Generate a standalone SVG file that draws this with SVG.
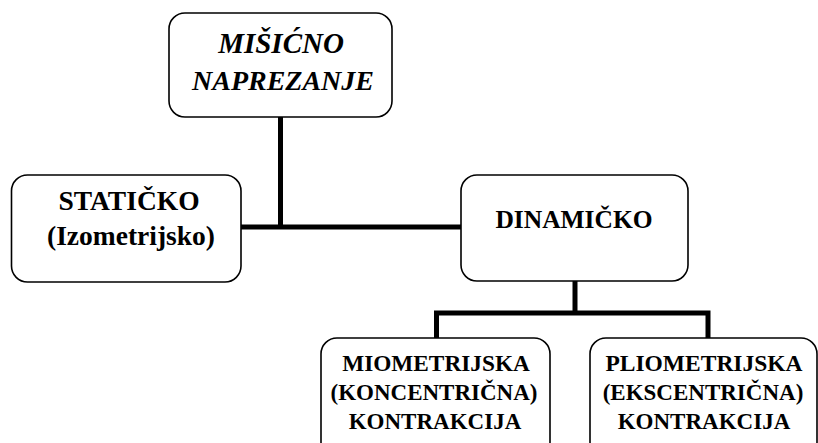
<svg xmlns="http://www.w3.org/2000/svg" width="818" height="443" viewBox="0 0 818 443">
  <style>
    .box { fill: #ffffff; stroke: #000000; stroke-width: 1.6; }
    .wire { fill: none; stroke: #000000; stroke-width: 5; stroke-linejoin: miter; }
    text { font-weight: bold; fill: #000000; text-anchor: middle; }
  </style>

  <!-- connectors -->
  <g id="connectors">
    <path class="wire" d="M280.5,117 V227"/>
    <path class="wire" d="M241,227 H461"/>
    <path class="wire" d="M575,281 V313"/>
    <path class="wire" d="M436.5,338 V313 H708 V338"/>
  </g>

  <g font-family="Liberation Serif, DejaVu Serif, serif">
    <!-- root -->
    <g id="node-misicno">
      <rect class="box" x="169" y="13" width="223" height="104" rx="16" ry="16"/>
      <text x="281" y="53" font-size="29" font-style="italic">MIŠIĆNO</text>
      <text x="283" y="90" font-size="28" font-style="italic">NAPREZANJE</text>
    </g>

    <g id="node-staticko">
      <rect class="box" x="11.5" y="175" width="229.5" height="107" rx="16" ry="16"/>
      <text x="129" y="210" font-size="27.5">STATIČKO</text>
      <text x="131" y="245" font-size="27.5">(Izometrijsko)</text>
    </g>

    <g id="node-dinamicko">
      <rect class="box" x="461" y="175" width="227" height="106" rx="16" ry="16"/>
      <text x="574" y="228" font-size="25.5">DINAMIČKO</text>
    </g>

    <g id="node-miometrijska">
      <rect class="box" x="321" y="338" width="229" height="120" rx="16" ry="16"/>
      <text x="436" y="371" font-size="23.3">MIOMETRIJSKA</text>
      <text x="434" y="400" font-size="23">(KONCENTRIČNA)</text>
      <text x="435" y="429" font-size="23">KONTRAKCIJA</text>
    </g>

    <g id="node-pliometrijska">
      <rect class="box" x="590" y="338" width="227" height="120" rx="16" ry="16"/>
      <text x="704" y="371" font-size="23.5">PLIOMETRIJSKA</text>
      <text x="703" y="400" font-size="23">(EKSCENTRIČNA)</text>
      <text x="704" y="429" font-size="23">KONTRAKCIJA</text>
    </g>
  </g>
</svg>
